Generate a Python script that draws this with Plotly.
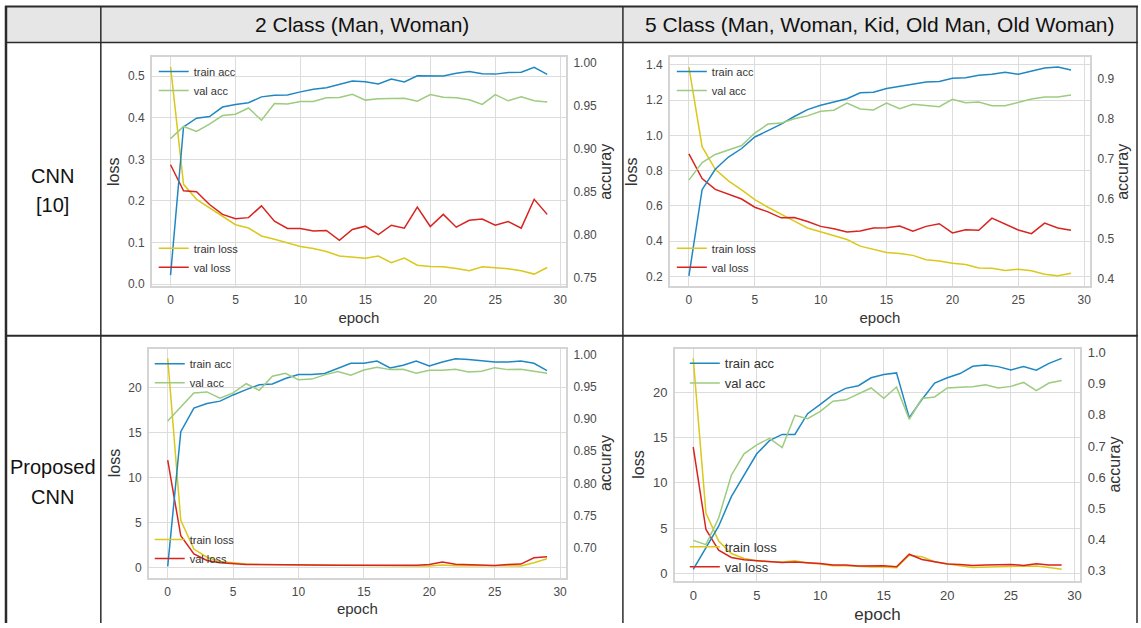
import plotly.graph_objects as go

W, H = 1141, 628
epochs = list(range(30))

# ---- CNN [10], 2 class ----
c2_train_acc = [0.7527, 0.9256, 0.9356, 0.9375, 0.9486, 0.9517, 0.9536, 0.9605, 0.9624, 0.9628,
                0.9663, 0.9693, 0.9712, 0.9755, 0.9789, 0.9781, 0.9755, 0.9812, 0.9778, 0.9850,
                0.9847, 0.9847, 0.9881, 0.9900, 0.9873, 0.9870, 0.9889, 0.9893, 0.9950, 0.9866]
c2_val_acc = [0.9118, 0.9260, 0.9202, 0.9287, 0.9387, 0.9402, 0.9475, 0.9333, 0.9528, 0.9521,
              0.9551, 0.9551, 0.9594, 0.9597, 0.9636, 0.9567, 0.9582, 0.9582, 0.9590, 0.9555,
              0.9632, 0.9601, 0.9594, 0.9571, 0.9517, 0.9632, 0.9559, 0.9605, 0.9559, 0.9544]
c2_train_loss = [0.522, 0.240, 0.204, 0.184, 0.165, 0.143, 0.135, 0.116, 0.108, 0.0985,
                 0.0906, 0.0859, 0.0788, 0.0678, 0.0646, 0.0623, 0.0678, 0.052, 0.063, 0.0457,
                 0.0426, 0.0418, 0.0378, 0.0323, 0.0418, 0.0402, 0.037, 0.0323, 0.0244, 0.0402]
c2_val_loss = [0.287, 0.2246, 0.2222, 0.1915, 0.1678, 0.1576, 0.160, 0.1883, 0.1513, 0.134,
               0.134, 0.1277, 0.1292, 0.1056, 0.1316, 0.1395, 0.119, 0.1418, 0.1348, 0.1852,
               0.1387, 0.1678, 0.1371, 0.1537, 0.1568, 0.1418, 0.1505, 0.1348, 0.2041, 0.1678]

# ---- CNN [10], 5 class ----
c5_train_acc = [0.408, 0.6236, 0.6748, 0.7053, 0.7267, 0.7556, 0.7713, 0.7878, 0.8068, 0.8241,
                0.8348, 0.8431, 0.8513, 0.8662, 0.8678, 0.8769, 0.8818, 0.8868, 0.8934, 0.8942,
                0.9025, 0.9041, 0.9099, 0.9124, 0.9173, 0.9124, 0.9206, 0.9281, 0.9305, 0.9231]
c5_val_acc = [0.6475, 0.6913, 0.7119, 0.7234, 0.7342, 0.7655, 0.7878, 0.7903, 0.8010, 0.8084,
              0.8200, 0.8224, 0.8406, 0.8257, 0.8233, 0.8406, 0.8266, 0.8373, 0.8348, 0.8315,
              0.8497, 0.8414, 0.8431, 0.8340, 0.8340, 0.8422, 0.8505, 0.8554, 0.8554, 0.8604]
c5_train_loss = [1.387, 0.936, 0.8075, 0.742, 0.6916, 0.6355, 0.5925, 0.5514, 0.514, 0.4748,
                 0.4523, 0.4318, 0.4093, 0.372, 0.3551, 0.3364, 0.3308, 0.3196, 0.2953, 0.2879,
                 0.2748, 0.2673, 0.2486, 0.2467, 0.2336, 0.2411, 0.2318, 0.2131, 0.2037, 0.2187]
c5_val_loss = [0.8953, 0.7551, 0.6935, 0.6673, 0.6393, 0.5925, 0.5664, 0.5327, 0.5346, 0.5121,
               0.4841, 0.471, 0.4523, 0.4579, 0.4748, 0.4766, 0.486, 0.4561, 0.4841, 0.499,
               0.4467, 0.4654, 0.4617, 0.5308, 0.499, 0.4636, 0.443, 0.5028, 0.4748, 0.4617]

# ---- Proposed CNN, 2 class ----
p2_train_acc = [0.6703, 0.8805, 0.9174, 0.9246, 0.9282, 0.9379, 0.9462, 0.9538, 0.9549, 0.9636,
                0.9697, 0.9697, 0.9713, 0.9795, 0.9872, 0.9872, 0.9908, 0.9800, 0.9841, 0.9908,
                0.9831, 0.9892, 0.9944, 0.9933, 0.9913, 0.9892, 0.9892, 0.9908, 0.9872, 0.9759]
p2_val_acc = [0.8974, 0.9190, 0.9410, 0.9426, 0.9328, 0.9410, 0.9554, 0.9451, 0.9672, 0.9718,
              0.9615, 0.9626, 0.9692, 0.9744, 0.9687, 0.9769, 0.9810, 0.9774, 0.9779, 0.9718,
              0.9764, 0.9764, 0.9779, 0.9738, 0.9749, 0.9805, 0.9774, 0.9779, 0.9749, 0.9718]
p2_train_loss = [23.29, 5.27, 2.08, 1.17, 0.69, 0.51, 0.40, 0.35, 0.33, 0.30,
                 0.28, 0.27, 0.25, 0.23, 0.22, 0.20, 0.20, 0.19, 0.18, 0.18,
                 0.20, 0.30, 0.22, 0.20, 0.18, 0.17, 0.18, 0.20, 0.55, 0.99]
p2_val_loss = [11.96, 3.55, 1.54, 0.80, 0.55, 0.44, 0.37, 0.35, 0.35, 0.32,
               0.30, 0.30, 0.32, 0.28, 0.26, 0.25, 0.27, 0.28, 0.25, 0.28,
               0.35, 0.62, 0.38, 0.35, 0.30, 0.25, 0.35, 0.40, 1.10, 1.21]

# ---- Proposed CNN, 5 class ----
p5_train_acc = [0.3042, 0.3739, 0.4426, 0.5376, 0.6041, 0.6749, 0.7171, 0.7372, 0.7372, 0.8037,
                0.8333, 0.8649, 0.8850, 0.8934, 0.9188, 0.9294, 0.9346, 0.7910, 0.8491, 0.9019,
                0.9188, 0.9325, 0.9558, 0.9600, 0.9547, 0.9441, 0.9547, 0.9431, 0.9653, 0.9811]
p5_val_acc = [0.3971, 0.3834, 0.4690, 0.6062, 0.6749, 0.7034, 0.7245, 0.6949, 0.7984, 0.7879,
              0.8111, 0.8438, 0.8481, 0.8670, 0.8861, 0.8533, 0.8892, 0.7857, 0.8523, 0.8575,
              0.8861, 0.8882, 0.8903, 0.8966, 0.8861, 0.8913, 0.9040, 0.8776, 0.9019, 0.9103]
p5_train_loss = [23.75, 6.65, 3.56, 2.18, 1.64, 1.38, 1.27, 1.24, 1.38, 1.13,
                 1.02, 0.84, 0.84, 0.76, 0.69, 0.69, 0.62, 2.00, 1.82, 1.27,
                 1.02, 0.84, 0.65, 0.65, 0.73, 0.76, 0.76, 0.80, 0.65, 0.44]
p5_val_loss = [13.93, 4.84, 2.55, 1.75, 1.49, 1.38, 1.31, 1.20, 1.24, 1.16,
               1.09, 0.91, 0.91, 0.80, 0.80, 0.84, 0.73, 2.11, 1.53, 1.31,
               1.02, 0.98, 0.87, 0.91, 0.91, 0.98, 0.87, 1.05, 0.91, 0.91]

col_headers = ["2 Class (Man, Woman)", "5 Class (Man, Woman, Kid, Old Man, Old Woman)"]
row_labels = [["CNN", "[10]"], ["Proposed", "CNN"]]
series_names = ["train acc", "val acc", "train loss", "val loss"]

C_BLUE, C_GREEN, C_YEL, C_RED = "#1f88c2", "#9dcb7f", "#dac81b", "#d9231f"
SANS = "Liberation Sans, Arial, sans-serif"


def px(x):
    return x / W


def py(y):
    return 1 - y / H


panels = [
    dict(data=(c2_train_acc, c2_val_acc, c2_train_loss, c2_val_loss),
         box=(152, 567, 55, 287), lrange=[-0.005, 0.545], ltick=[0, 0.1, 0.2, 0.3, 0.4, 0.5], lfmt=".1f",
         arange=[0.7397, 1.0066], atick=[0.75, 0.80, 0.85, 0.90, 0.95, 1.00], afmt=".2f",
         leg_x=154, leg_top=79, leg_bot=258, fs=12, tfs=16, xtfs=15, lfs=11),
    dict(data=(c5_train_acc, c5_val_acc, c5_train_loss, c5_val_loss),
         box=(671, 1092, 55, 287), lrange=[0.144, 1.443], ltick=[0.2, 0.4, 0.6, 0.8, 1.0, 1.2, 1.4], lfmt=".1f",
         arange=[0.3817, 0.955], atick=[0.4, 0.5, 0.6, 0.7, 0.8, 0.9], afmt=".1f",
         leg_x=673, leg_top=79, leg_bot=258, fs=12, tfs=16, xtfs=15, lfs=11),
    dict(data=(p2_train_acc, p2_val_acc, p2_train_loss, p2_val_loss),
         box=(149, 567, 350, 582), lrange=[-1.10, 24.39], ltick=[0, 5, 10, 15, 20], lfmt="d",
         arange=[0.6529, 1.0103], atick=[0.70, 0.75, 0.80, 0.85, 0.90, 0.95, 1.00], afmt=".2f",
         leg_x=150, leg_top=375, leg_bot=553, fs=12, tfs=16, xtfs=15, lfs=11),
    dict(data=(p5_train_acc, p5_val_acc, p5_train_loss, p5_val_loss),
         box=(676, 1082, 350, 585), lrange=[-0.80, 24.83], ltick=[0, 5, 10, 15, 20], lfmt="d",
         arange=[0.2683, 1.0127], atick=[0.3, 0.4, 0.5, 0.6, 0.7, 0.8, 0.9, 1.0], afmt=".1f",
         leg_x=686, leg_top=375, leg_bot=561, fs=13, tfs=16, xtfs=17, lfs=13),
]

fig = go.Figure()
layout = {}

for i, p in enumerate(panels):
    n = i + 1
    xa = "x" if n == 1 else f"x{n}"
    yl_n = 2 * n - 1
    ya_n = 2 * n
    yl = "y" if yl_n == 1 else f"y{yl_n}"
    ya = f"y{ya_n}"
    legA = "legend" if n == 1 else f"legend{2 * n - 1}"
    legB = f"legend{2 * n}"
    tr_acc, va_acc, tr_loss, va_loss = p["data"]
    for name, vals, c in [(series_names[2], tr_loss, C_YEL), (series_names[3], va_loss, C_RED)]:
        fig.add_trace(go.Scatter(x=epochs, y=vals, name=name, mode="lines",
                                 line=dict(color=c, width=1.5), xaxis=xa, yaxis=yl, legend=legB))
    for name, vals, c in [(series_names[0], tr_acc, C_BLUE), (series_names[1], va_acc, C_GREEN)]:
        fig.add_trace(go.Scatter(x=epochs, y=vals, name=name, mode="lines",
                                 line=dict(color=c, width=1.5), xaxis=xa, yaxis=ya, legend=legA))
    x0, x1, y0, y1 = p["box"]
    fs, tfs = p["fs"], p["tfs"]
    layout["xaxis" if n == 1 else f"xaxis{n}"] = dict(
        domain=[px(x0), px(x1)], anchor=yl, range=[-1.45, 30.45],
        tickvals=[0, 5, 10, 15, 20, 25, 30], showgrid=True, gridcolor="#dcdcdc", gridwidth=1,
        zeroline=False, showline=True, mirror=True, linecolor="#d4d4d4", linewidth=1.5,
        ticks="outside", ticklen=2, tickcolor="rgba(0,0,0,0)",
        tickfont=dict(family=SANS, size=fs, color="#4a4a4a"),
        title=dict(text="epoch", standoff=6, font=dict(family=SANS, size=p["xtfs"], color="#333")))
    layout["yaxis" if yl_n == 1 else f"yaxis{yl_n}"] = dict(
        domain=[py(y1), py(y0)], anchor=xa, range=p["lrange"], tickvals=p["ltick"], tickformat=p["lfmt"],
        showgrid=True, gridcolor="#dcdcdc", gridwidth=1, zeroline=False,
        showline=True, mirror=True, linecolor="#d4d4d4", linewidth=1.5,
        ticks="outside", ticklen=3, tickcolor="rgba(0,0,0,0)",
        tickfont=dict(family=SANS, size=fs, color="#4a4a4a"),
        title=dict(text="loss", standoff=4, font=dict(family=SANS, size=tfs, color="#333")))
    layout[f"yaxis{ya_n}"] = dict(
        overlaying=yl, side="right", anchor=xa, range=p["arange"], tickvals=p["atick"], tickformat=p["afmt"],
        showgrid=False, zeroline=False, showline=False,
        ticks="outside", ticklen=4, tickcolor="rgba(0,0,0,0)",
        tickfont=dict(family=SANS, size=fs, color="#4a4a4a"),
        title=dict(text="accuray", standoff=1, font=dict(family=SANS, size=tfs, color="#333")))
    legfont = dict(family=SANS, size=p["lfs"], color="#333")
    layout[legA] = dict(x=px(p["leg_x"]), y=py(p["leg_top"]), xanchor="left", yanchor="middle",
                        bgcolor="rgba(0,0,0,0)", font=legfont, itemwidth=30)
    layout[legB] = dict(x=px(p["leg_x"]), y=py(p["leg_bot"]), xanchor="left", yanchor="middle",
                        bgcolor="rgba(0,0,0,0)", font=legfont, itemwidth=30)

# table shapes
shapes = []
shapes.append(dict(type="rect", xref="paper", yref="paper", x0=px(6), x1=px(1139), y0=py(40), y1=py(3.5),
                   fillcolor="#e6e6e6", line=dict(width=0), layer="below"))
line_col = "#2b2b2b"
for (xa_, ya_, xb_, yb_, w_) in [(5, 3.5, 1140, 3.5, 2), (5, 40, 1140, 40, 1.5), (5, 337, 1140, 337, 2),
                                  (6, 3, 6, 628, 2.5), (101, 3, 101, 628, 1.5), (624, 3, 624, 628, 1.5),
                                  (1139, 3, 1139, 628, 1.5)]:
    shapes.append(dict(type="line", xref="paper", yref="paper", x0=px(xa_), x1=px(xb_), y0=py(ya_), y1=py(yb_),
                       line=dict(color=line_col, width=w_)))

annotations = []
hfont = dict(family=SANS, size=21, color="#111")
annotations.append(dict(text=col_headers[0], x=px(362.5), y=py(22), xref="paper", yref="paper",
                        xanchor="center", yanchor="middle", showarrow=False, font=hfont))
annotations.append(dict(text=col_headers[1], x=px(881.5), y=py(22), xref="paper", yref="paper",
                        xanchor="center", yanchor="middle", showarrow=False, font=hfont))
rfont = dict(family=SANS, size=20, color="#111")
for lbls, ys in [(row_labels[0], (175, 205)), (row_labels[1], (470, 500))]:
    for t, yy in zip(lbls, ys):
        annotations.append(dict(text=t, x=px(53), y=py(yy), xref="paper", yref="paper",
                                xanchor="center", yanchor="middle", showarrow=False, font=rfont))

fig.update_layout(**layout)
fig.update_layout(width=W, height=H, margin=dict(l=0, r=0, t=0, b=0), paper_bgcolor="white",
                  plot_bgcolor="white", shapes=shapes, annotations=annotations, showlegend=True)
fig.write_html("out.html")
